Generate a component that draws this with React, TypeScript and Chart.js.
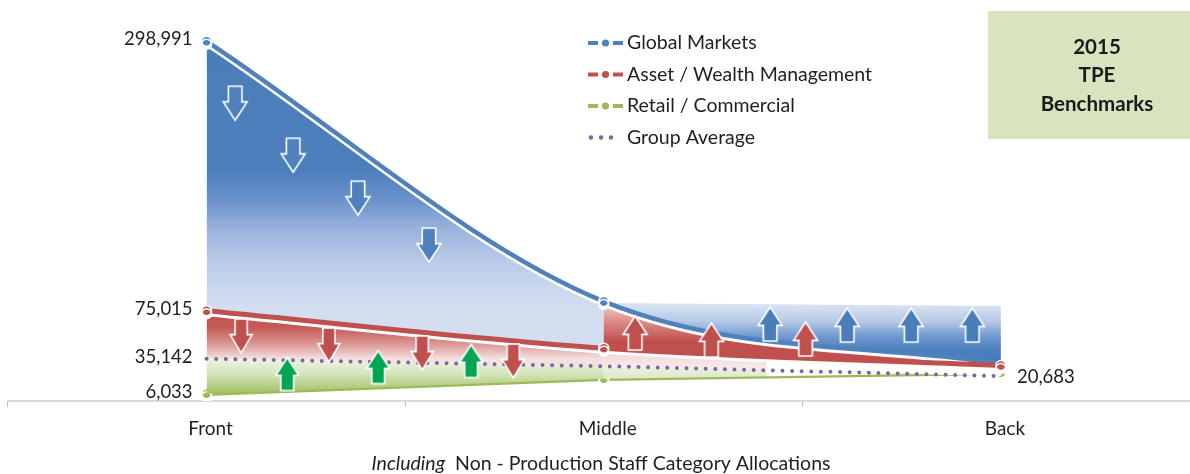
import React, { useEffect, useRef } from 'react';
import { Chart, registerables } from 'chart.js';

Chart.register(...registerables);

// ---------- data ----------
const CATEGORIES = ['Front', 'Middle', 'Back'];
const GLOBAL_MARKETS = [298991, 82800, 31000];
const ASSET_WEALTH = [75015, 43900, 29500];
const RETAIL_COMMERCIAL = [6033, 18500, 23500];
const GROUP_AVERAGE = [35142, 28900, 20683];
const BENCHMARK_BAND = [null, 81500, 79000];
const SERIES_NAMES = ['Global Markets', 'Asset / Wealth Management', 'Retail / Commercial', 'Group Average'];
const BOX_LINES = ['2015', 'TPE', 'Benchmarks'];
const AXIS_TITLE_ITALIC = 'Including';
const AXIS_TITLE_REST = '  Non - Production Staff Category Allocations';

// arrows: [category position, value]
const GM_DOWN_ARROWS = [[0.072, 247500], [0.218, 204300], [0.381, 168600], [0.56, 129600]];
const AWM_DOWN_ARROWS = [[0.087, 54000], [0.308, 46500], [0.543, 39900], [0.772, 33200]];
const RETAIL_UP_ARROWS = [[0.203, 22400], [0.432, 28200], [0.666, 33200]];
const AWM_UP_ARROWS = [[1.079, 56500], [1.271, 50700], [1.508, 51500]];
const GM_UP_ARROWS = [[1.419, 64000], [1.613, 63100], [1.774, 63100], [1.928, 63100]];

const BLUE = '#4f81bd';
const RED = '#c0504d';
const GREEN = '#9bbb59';
const PURPLE = '#7f64a6';
const ARROW_GREEN = '#00a651';
const FONT = "Lato, 'Open Sans', sans-serif";
const TEXT = '#1f1f1f';

const CANVAS_W = 1206;
const CANVAS_H = 474;

type Strip = { from: number; to: number; top: number; bottom: number; stops: [number, string][] };

function stripPattern(chart: any, strips: Strip[]) {
  const { width, height } = chart;
  const off = document.createElement('canvas');
  off.width = width;
  off.height = height;
  const c = off.getContext('2d')!;
  const xs = chart.scales.xa;
  const ys = chart.scales.y;
  for (const s of strips) {
    const x0 = xs.getPixelForValue(s.from);
    const x1 = xs.getPixelForValue(s.to);
    const y0 = ys.getPixelForValue(s.top);
    const y1 = ys.getPixelForValue(s.bottom);
    const g = c.createLinearGradient(0, y0, 0, y1);
    s.stops.forEach(([o, col]) => g.addColorStop(o, col));
    c.fillStyle = g;
    c.fillRect(x0, 0, x1 - x0, height);
  }
  return chart.ctx.createPattern(off, 'no-repeat');
}

function scriptedFill(strips: () => Strip[]) {
  return (ctx: any) => {
    const chart = ctx.chart;
    if (!chart.chartArea || !chart.scales.xa) return 'transparent';
    return stripPattern(chart, strips());
  };
}

function arrowImage(dir: 'up' | 'down', fill: string, w = 24, h = 34) {
  const pad = 2;
  const c = document.createElement('canvas');
  c.width = w + pad * 2;
  c.height = h + pad * 2;
  const g = c.getContext('2d')!;
  g.translate(pad, pad);
  if (dir === 'down') {
    g.translate(0, h);
    g.scale(1, -1);
  }
  const sw = w * 0.56;
  const sh = h * 0.46;
  g.beginPath();
  g.moveTo(w / 2, 0);
  g.lineTo(w, h - sh);
  g.lineTo(w / 2 + sw / 2, h - sh);
  g.lineTo(w / 2 + sw / 2, h);
  g.lineTo(w / 2 - sw / 2, h);
  g.lineTo(w / 2 - sw / 2, h - sh);
  g.lineTo(0, h - sh);
  g.closePath();
  g.fillStyle = fill;
  g.fill();
  g.lineWidth = 1.6;
  g.strokeStyle = '#ffffff';
  g.stroke();
  return c;
}

const whiteShadowPlugin = {
  id: 'whiteShadow',
  beforeDatasetDraw(chart: any, args: any) {
    const ds = chart.data.datasets[args.index];
    if (ds && ds.whiteShadow) {
      chart.ctx.save();
      chart.ctx.shadowColor = '#ffffff';
      chart.ctx.shadowOffsetX = 0;
      chart.ctx.shadowOffsetY = 3;
      chart.ctx.shadowBlur = 0;
    }
  },
  afterDatasetDraw(chart: any, args: any) {
    const ds = chart.data.datasets[args.index];
    if (ds && ds.whiteShadow) chart.ctx.restore();
  },
};

const decorPlugin = {
  id: 'decor',
  afterDraw(chart: any) {
    const ctx = chart.ctx;
    ctx.save();
    // value labels
    ctx.font = `18.5px ${FONT}`;
    ctx.fillStyle = TEXT;
    ctx.textBaseline = 'middle';
    const fmt = (v: number) => v.toLocaleString('en-US');
    const leftLabels: [number, number][] = [[0, 0], [1, 0], [3, 0], [2, 0]];
    ctx.textAlign = 'right';
    leftLabels.forEach(([di, pi]) => {
      const pt = chart.getDatasetMeta(di).data[pi];
      const v = chart.data.datasets[di].data[pi];
      ctx.fillText(fmt(v), pt.x - 14, pt.y - 2);
    });
    ctx.textAlign = 'left';
    {
      const pt = chart.getDatasetMeta(3).data[2];
      const v = chart.data.datasets[3].data[2];
      ctx.fillText(fmt(v), pt.x + 16, pt.y + 1);
    }

    // legend
    const colors = [BLUE, RED, GREEN, PURPLE];
    const lx = 588;
    SERIES_NAMES.forEach((name, i) => {
      const y = 43 + i * 31.5;
      ctx.fillStyle = colors[i];
      if (i < 3) {
        ctx.fillRect(lx, y - 2, 10, 4);
        ctx.beginPath();
        ctx.arc(lx + 17.5, y, 3.6, 0, Math.PI * 2);
        ctx.fill();
        ctx.fillRect(lx + 25, y - 2, 10, 4);
      } else {
        for (let k = 0; k < 3; k++) {
          ctx.beginPath();
          ctx.arc(lx + 3 + k * 10, y, 2.2, 0, Math.PI * 2);
          ctx.fill();
        }
      }
      ctx.fillStyle = TEXT;
      ctx.font = `19.5px ${FONT}`;
      ctx.textAlign = 'left';
      ctx.fillText(name, lx + 39, y);
    });

    // benchmark box
    ctx.fillStyle = '#d7e4bd';
    ctx.fillRect(988, 11, 220, 128);
    ctx.fillStyle = '#1a1a1a';
    ctx.font = `bold 20.5px ${FONT}`;
    ctx.textAlign = 'center';
    BOX_LINES.forEach((t, i) => ctx.fillText(t, 1097, 47 + i * 28.5));

    // axis title (mixed style)
    const italic = `italic 19.5px ${FONT}`;
    const normal = `19.5px ${FONT}`;
    ctx.font = italic;
    const w1 = ctx.measureText(AXIS_TITLE_ITALIC).width;
    ctx.font = normal;
    const w2 = ctx.measureText(AXIS_TITLE_REST).width;
    const cx = 601;
    const sx = cx - (w1 + w2) / 2;
    ctx.fillStyle = TEXT;
    ctx.textAlign = 'left';
    ctx.font = italic;
    ctx.fillText(AXIS_TITLE_ITALIC, sx, 464);
    ctx.font = normal;
    ctx.fillText(AXIS_TITLE_REST, sx + w1, 464);
    ctx.restore();
  },
};

export default function App() {
  const ref = useRef<HTMLCanvasElement | null>(null);

  useEffect(() => {
    document.body.style.margin = '0';
    document.body.style.overflow = 'hidden';
    const canvas = ref.current!;

    const gmFill: () => Strip[] = () => [
      {
        from: -0.5, to: 1, top: GLOBAL_MARKETS[0], bottom: ASSET_WEALTH[0],
        stops: [[0, '#4a7dba'], [0.48, '#4c7fbc'], [0.59, '#6b92cb'], [0.7, '#9bb3de'], [0.81, '#b8cae8'], [0.92, '#cad8ef'], [1, '#d3def1']],
      },
      {
        from: 1, to: 2.5, top: GLOBAL_MARKETS[1], bottom: ASSET_WEALTH[1],
        stops: [[0, '#f2d3d2'], [0.5, '#d9817f'], [0.85, RED], [1, RED]],
      },
    ];
    const bandFill: () => Strip[] = () => [
      {
        from: 1, to: 2.5, top: BENCHMARK_BAND[1] as number, bottom: GLOBAL_MARKETS[2],
        stops: [[0, '#dce5f4'], [0.3, '#b6c9e7'], [0.55, '#7099d0'], [0.75, BLUE], [1, '#4679b9']],
      },
    ];
    const awmFill: () => Strip[] = () => [
      {
        from: -0.5, to: 1, top: ASSET_WEALTH[0], bottom: GROUP_AVERAGE[0],
        stops: [[0, RED], [0.35, '#c45a57'], [0.7, '#dc9896'], [1, '#f5e0e0']],
      },
      {
        from: 1, to: 1.41, top: ASSET_WEALTH[1], bottom: GROUP_AVERAGE[1],
        stops: [[0, '#f0d2d1'], [1, '#f8e8e8']],
      },
      {
        from: 1.41, to: 2.5, top: ASSET_WEALTH[1], bottom: GROUP_AVERAGE[1],
        stops: [[0, '#ffffff'], [1, '#ffffff']],
      },
    ];
    const gaFill: () => Strip[] = () => [
      {
        from: -0.5, to: 1, top: GROUP_AVERAGE[0], bottom: RETAIL_COMMERCIAL[0],
        stops: [[0, '#eef4e5'], [0.4, '#d6e5be'], [0.8, '#b3cd82'], [1, '#9fbf5f']],
      },
      {
        from: 1, to: 1.41, top: GROUP_AVERAGE[1], bottom: RETAIL_COMMERCIAL[1],
        stops: [[0, '#eaf1de'], [1, '#dde8cc']],
      },
      {
        from: 1.41, to: 2.5, top: GROUP_AVERAGE[1], bottom: RETAIL_COMMERCIAL[1],
        stops: [[0, '#ffffff'], [1, '#ffffff']],
      },
    ];

    const arrowSet = (pts: number[][], img: HTMLCanvasElement) => ({
      type: 'scatter' as const,
      xAxisID: 'xa',
      data: pts.map(([x, y]) => ({ x, y })),
      pointStyle: img,
      pointRadius: 1,
      pointBorderWidth: 0,
      order: -1,
    });

    const chart = new Chart(canvas, {
      type: 'line',
      data: {
        labels: CATEGORIES,
        datasets: [
          {
            label: SERIES_NAMES[0],
            data: GLOBAL_MARKETS,
            borderColor: BLUE,
            borderWidth: 4.5,
            cubicInterpolationMode: 'monotone',
            pointRadius: [5, 5, 0],
            pointBackgroundColor: BLUE,
            pointBorderColor: '#ffffff',
            pointBorderWidth: 1.5,
            fill: { target: 1 },
            backgroundColor: scriptedFill(gmFill),
            whiteShadow: true,
            order: 2,
          } as any,
          {
            label: SERIES_NAMES[1],
            data: ASSET_WEALTH,
            borderColor: RED,
            borderWidth: 5,
            cubicInterpolationMode: 'monotone',
            pointRadius: 5,
            pointBackgroundColor: RED,
            pointBorderColor: '#ffffff',
            pointBorderWidth: 1.5,
            fill: { target: 3 },
            backgroundColor: scriptedFill(awmFill),
            whiteShadow: true,
            order: 1,
          } as any,
          {
            label: SERIES_NAMES[2],
            data: RETAIL_COMMERCIAL,
            borderColor: GREEN,
            borderWidth: 4.5,
            tension: 0,
            pointRadius: 5,
            pointBackgroundColor: GREEN,
            pointBorderColor: '#ffffff',
            pointBorderWidth: 1.5,
            fill: false,
            whiteShadow: true,
            order: 3,
          } as any,
          {
            label: SERIES_NAMES[3],
            data: GROUP_AVERAGE,
            borderColor: PURPLE,
            borderWidth: 4,
            borderDash: [0, 9.6],
            borderCapStyle: 'round',
            tension: 0,
            pointRadius: 0,
            fill: { target: 2 },
            backgroundColor: scriptedFill(gaFill),
            order: 0,
          } as any,
          {
            label: 'band',
            data: BENCHMARK_BAND,
            borderWidth: 0,
            borderColor: 'transparent',
            tension: 0,
            pointRadius: 0,
            fill: { target: 0 },
            backgroundColor: scriptedFill(bandFill),
            order: 5,
          } as any,
          arrowSet(GM_DOWN_ARROWS, arrowImage('down', '#4f81bd')),
          arrowSet(AWM_DOWN_ARROWS, arrowImage('down', RED, 22, 34)),
          arrowSet(RETAIL_UP_ARROWS, arrowImage('up', ARROW_GREEN, 23, 33)),
          arrowSet(AWM_UP_ARROWS, arrowImage('up', RED, 24, 34)),
          arrowSet(GM_UP_ARROWS, arrowImage('up', '#4a7ebb', 24, 34)),
        ] as any,
      },
      options: {
        responsive: false,
        animation: false,
        events: [],
        layout: { padding: { top: 10, left: 8, right: 0, bottom: 0 } },
        plugins: {
          legend: { display: false },
          tooltip: { enabled: false },
          title: { display: false },
        },
        scales: {
          x: {
            type: 'category',
            offset: true,
            grid: {
              display: true,
              drawOnChartArea: false,
              drawTicks: true,
              tickLength: 6,
              color: '#bfbfbf',
              offset: true,
            },
            border: { display: true, color: '#d9d9d9', width: 2 },
            ticks: {
              color: TEXT,
              font: { family: FONT, size: 19 },
              padding: 10,
              labelOffset: 4,
              autoSkip: false,
              maxRotation: 0,
            },
            afterFit: (scale: any) => {
              scale.height = 73;
            },
          },
          xa: {
            type: 'linear',
            display: false,
            min: -0.5,
            max: 2.5,
          },
          y: {
            type: 'linear',
            display: false,
            min: 0,
            max: 325000,
          },
        },
      } as any,
      plugins: [whiteShadowPlugin, decorPlugin],
    });

    return () => chart.destroy();
  }, []);

  return (
    <div style={{ position: 'relative', width: CANVAS_W, height: CANVAS_H }}>
      <canvas ref={ref} width={CANVAS_W} height={CANVAS_H} style={{ display: 'block' }} />
    </div>
  );
}
